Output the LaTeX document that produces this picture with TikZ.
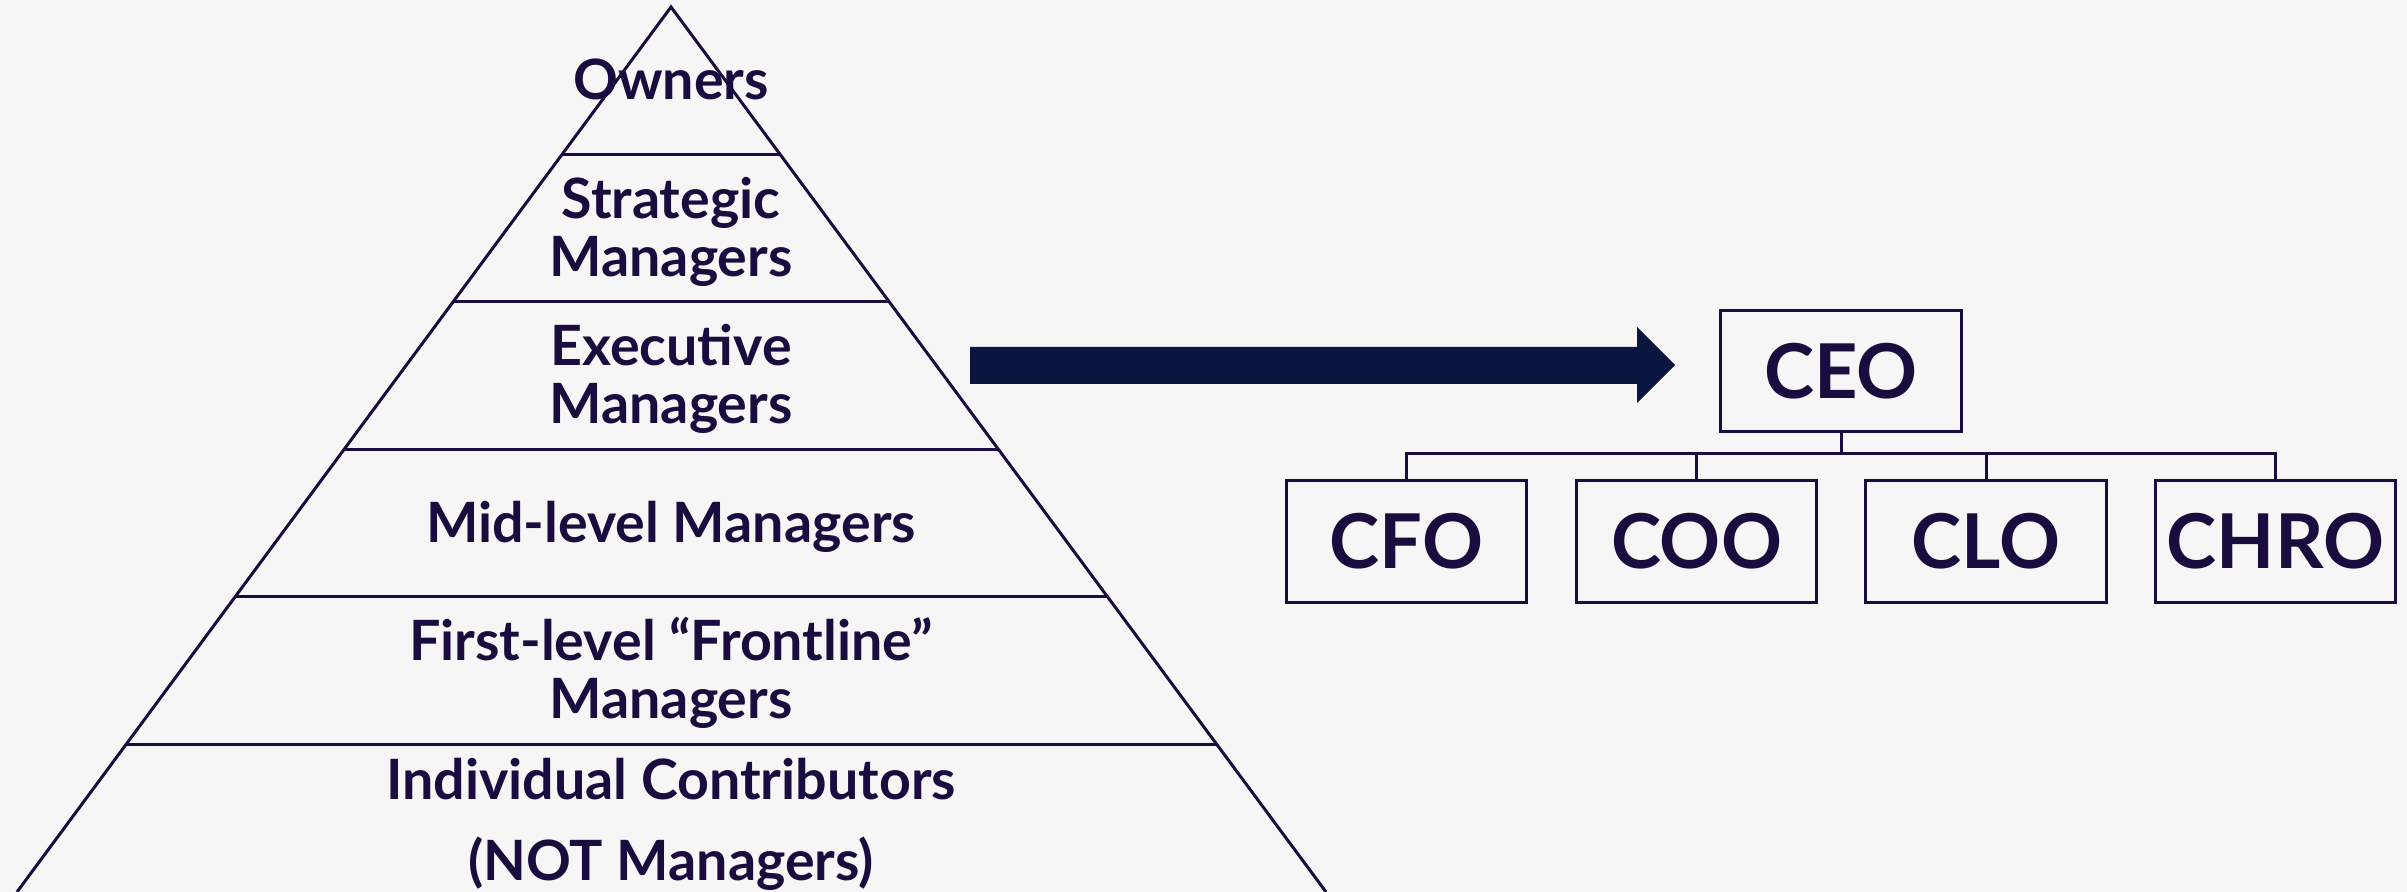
\documentclass[tikz,border=0pt]{standalone}
\usepackage{fontspec}
\setmainfont{Lato}
\usepackage{xcolor}
\usetikzlibrary{calc}
\definecolor{vback}{HTML}{F6F6F6}
\definecolor{vnavy}{HTML}{1A0C3E}
\definecolor{varrow}{HTML}{0B1640}

\begin{document}
\begin{tikzpicture}[x=0.01cm, y=-0.01cm,
	tier/.style = {text = vnavy, font = \fontsize{15.8}{16.6}\selectfont\bfseries, align = center},
	post/.style = {draw = vnavy, line width = 0.85pt, text = vnavy, font = \fontsize{21.5}{22}\selectfont\bfseries, minimum width = 2.4cm, minimum height = 1.21cm, inner sep = 0pt},
	link/.style = {draw = vnavy, line width = 0.85pt}]
	\fill[vback] (0,0) rectangle (2407,892);
	\useasboundingbox (0,0) rectangle (2407,892);
	% pyramid
	\coordinate (apex) at (671,7);
	\coordinate (bl) at (17,892);
	\coordinate (br) at (1326,892);
	\draw[draw = vnavy, line width = 0.85pt, line join = miter] (bl) -- (apex) -- (br);
	\foreach \k in {1,...,5}
		\draw[draw = vnavy, line width = 0.85pt] ($(apex)!\k/6!(bl)$) -- ($(apex)!\k/6!(br)$);
	\node[tier] (owners) at (671,79) {Owners};
	\node[tier] (strategic) at (671,232) {Strategic\\Managers};
	\node[tier] (executive) at (671,379) {Executive\\Managers};
	\node[tier] (midlevel) at (671,527) {Mid-level Managers};
	\node[tier] (frontline) at (671,673) {First-level “Frontline”\\Managers};
	\node[tier] (contrib) at (671,779) {Individual Contributors};
	\node[tier] (notmgr) at (671,864) {(NOT Managers)};
	% arrow
	\fill[varrow] (970,347) -- (1637,347) -- (1637,327) -- (1675,365) -- (1637,403) -- (1637,384) -- (970,384) -- cycle;
	% org chart
	\node[post] (ceo) at (1841,371) {CEO};
	\node[post] (cfo) at (1406.5,541.5) {CFO};
	\node[post] (coo) at (1696.5,541.5) {COO};
	\node[post] (clo) at (1986,541.5) {CLO};
	\node[post] (chro) at (2275.5,541.5) {CHRO};
	\coordinate (bar) at (1841,454);
	\draw[link] (ceo.south) -- (bar);
	\foreach \n in {cfo,coo,clo,chro}
		\draw[link] (bar) -| (\n.north);
\end{tikzpicture}
\end{document}
